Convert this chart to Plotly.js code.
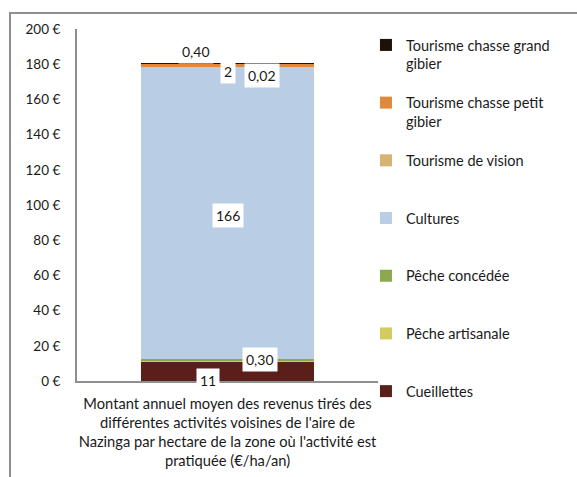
<!DOCTYPE html>
<html>
<head>
<meta charset="utf-8">
<script src="https://cdn.plot.ly/plotly-3.0.1.min.js"></script>
<style>
  html, body { margin: 0; padding: 0; background: #fff; }
  #frame { position: absolute; left: 9px; top: 12px; width: 600px; height: 500px; border: 2px solid #8f8f8f; box-sizing: border-box; }
  #chart { position: absolute; left: 0; top: 0; width: 577px; height: 477px; }
</style>
</head>
<body>
<div id="frame"></div>
<div id="chart"></div>
<script>
// ---- data ----
const category = ["Montant annuel moyen des revenus tirés des<br>différentes activités voisines de l'aire de<br>Nazinga par hectare de la zone où l'activité est<br>pratiquée (€/ha/an)"];
const seriesNames = ["Cueillettes", "Pêche artisanale", "Pêche concédée", "Cultures", "Tourisme de vision", "Tourisme chasse petit gibier", "Tourisme chasse grand gibier"];
const legendNames = ["Cueillettes<br>&nbsp;", "Pêche artisanale<br>&nbsp;", "Pêche concédée<br>&nbsp;", "Cultures<br>&nbsp;", "Tourisme de vision<br>&nbsp;", "Tourisme chasse petit<br>gibier", "Tourisme chasse grand<br>gibier"];
const cueillettes = [11];
const pecheArtisanale = [0.30];
const pecheConcedee = [1];
const cultures = [166];
const tourismeVision = [0.02];
const chassePetit = [2];
const chasseGrand = [0.40];
const valueLabels = ["11", "0,30", "", "166", "0,02", "2", "0,40"];
const colors = ["#5a1f1b", "#d2cb60", "#8aa84c", "#b9cde5", "#d6b273", "#e0893d", "#1d1108"];

const allValues = [cueillettes, pecheArtisanale, pecheConcedee, cultures, tourismeVision, chassePetit, chasseGrand];

const traces = allValues.map((vals, i) => ({
  type: 'bar',
  x: category,
  y: vals,
  name: legendNames[i],
  legendgroup: 'g' + i,
  legendrank: 100 - i,
  marker: { color: colors[i], line: { width: 0 } },
  hoverinfo: 'y'
}));

// cumulative stack tops
const cum = [];
let run = 0;
allValues.forEach(v => { run += v[0]; cum.push(run); });

// label placements (pixel offsets from the stacked anchors)
const labelSpec = [
  { i: 0, y: 0, xs: -20, ys: 1 },
  { i: 1, y: cum[1], xs: 32, ys: 2 },
  { i: 3, y: (cum[2] + cum[3]) / 2, xs: 0, ys: -2 },
  { i: 4, y: cum[4], xs: 34, ys: -8 },
  { i: 5, y: cum[5], xs: 0, ys: -8 },
  { i: 6, y: cum[6], xs: -32, ys: 11 }
];
const annotations = labelSpec.map(s => ({
  x: category[0], y: s.y, xref: 'x', yref: 'y',
  text: valueLabels[s.i], showarrow: false,
  xshift: s.xs, yshift: s.ys,
  bgcolor: '#ffffff', borderpad: 3,
  font: { family: 'Lato, sans-serif', size: 14, color: '#1a1a1a' }
}));

const layout = {
  width: 577, height: 477,
  margin: { l: 77, r: 199, t: 29, b: 96 },
  paper_bgcolor: 'rgba(0,0,0,0)',
  plot_bgcolor: 'rgba(0,0,0,0)',
  barmode: 'stack',
  bargap: 0.425,
  font: { family: 'Lato, sans-serif', size: 14, color: '#1a1a1a' },
  xaxis: {
    showline: true, linecolor: '#8f8f8f', linewidth: 2,
    showgrid: false, ticks: '', tickangle: 0,
    tickfont: { size: 14.7 }, ticklabelstandoff: 8
  },
  yaxis: {
    range: [0, 200], dtick: 20, ticksuffix: ' €',
    showline: true, linecolor: '#8f8f8f', linewidth: 2,
    showgrid: false, zeroline: false, ticks: '',
    tickfont: { size: 13.5 }, ticklabelstandoff: 12
  },
  legend: {
    x: 0.96, xanchor: 'left', y: 1.0, yanchor: 'top',
    traceorder: 'grouped', tracegroupgap: 17,
    valign: 'top', font: { size: 14.5 }, bgcolor: 'rgba(0,0,0,0)',
    maxheight: 470
  },
  annotations: annotations,
  showlegend: true
};

Plotly.newPlot('chart', traces, layout, { displayModeBar: false, staticPlot: true });
</script>
</body>
</html>
